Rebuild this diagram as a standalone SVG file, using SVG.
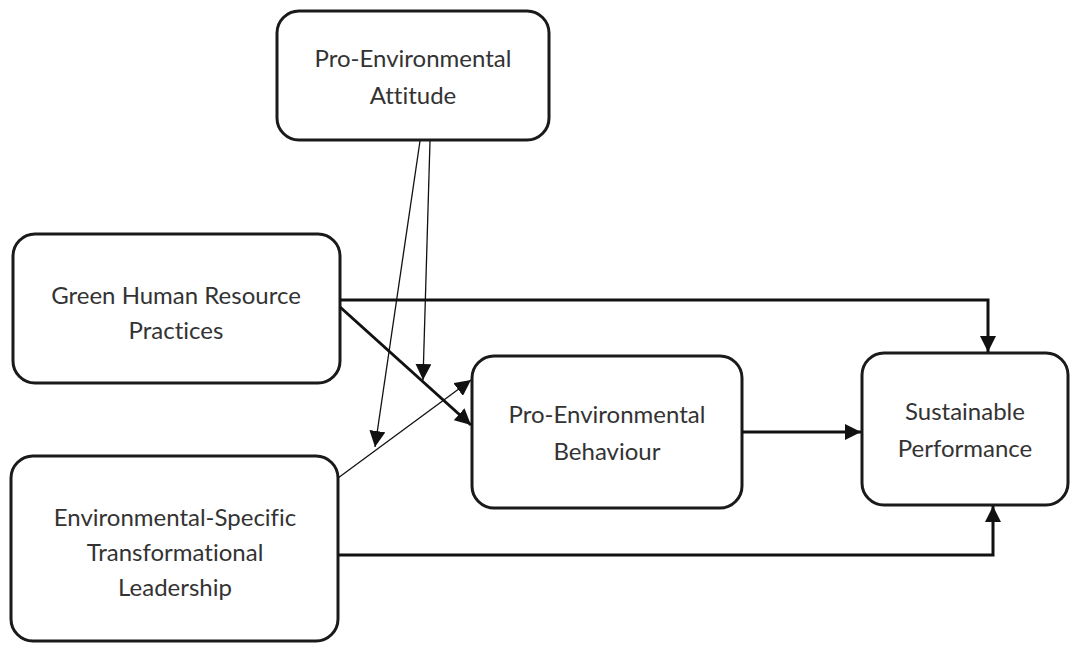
<svg xmlns="http://www.w3.org/2000/svg" width="1070" height="649" viewBox="0 0 1070 649">
<style>
.box{fill:#fff;stroke:#1a1a1a;stroke-width:3}
.t{font-family:Lato,"Open Sans",sans-serif;font-size:24px;fill:#333;text-anchor:middle;font-variant-ligatures:none}
.c{fill:none;stroke:#111;stroke-width:3}
.thin{fill:none;stroke:#111;stroke-width:1.3}
</style>
<defs>
<marker id="a" viewBox="0 0 10 10" refX="10" refY="5" markerWidth="16" markerHeight="16" markerUnits="userSpaceOnUse" orient="auto"><path d="M0,0L10,5L0,10z" fill="#111"/></marker>
</defs>
<rect width="1070" height="649" fill="#fff"/>
<g id="pea"><rect class="box" x="277" y="11" width="272" height="129" rx="22"/>
<text class="t" x="413" y="67">Pro-Environmental</text><text class="t" x="413" y="104">Attitude</text></g>
<g id="ghrp"><rect class="box" x="13" y="234" width="327" height="149" rx="22"/>
<text class="t" x="176" y="304">Green Human Resource</text><text class="t" x="176" y="339">Practices</text></g>
<g id="estl"><rect class="box" x="11" y="456" width="327" height="185" rx="22"/>
<text class="t" x="175" y="526">Environmental-Specific</text><text class="t" x="175" y="561">Transformational</text><text class="t" x="175" y="596">Leadership</text></g>
<g id="peb"><rect class="box" x="472" y="356" width="270" height="152" rx="22"/>
<text class="t" x="607" y="423">Pro-Environmental</text><text class="t" x="607" y="460">Behaviour</text></g>
<g id="sp"><rect class="box" x="862" y="353" width="206" height="152" rx="22"/>
<text class="t" x="965" y="420">Sustainable</text><text class="t" x="965" y="457">Performance</text></g>
<g id="connectors">
<path class="c" d="M340,300H988V352" marker-end="url(#a)"/>
<path class="c" d="M338,555H993V506" marker-end="url(#a)"/>
<path class="c" d="M742,432H861" marker-end="url(#a)"/>
<path class="c" d="M340,307L471,425" marker-end="url(#a)"/>
<path class="thin" d="M338,478L471,380" marker-end="url(#a)"/>
<path class="thin" d="M430,141L423,380" marker-end="url(#a)"/>
<path class="thin" d="M420,141L375,447" marker-end="url(#a)"/>
</g>
</svg>
